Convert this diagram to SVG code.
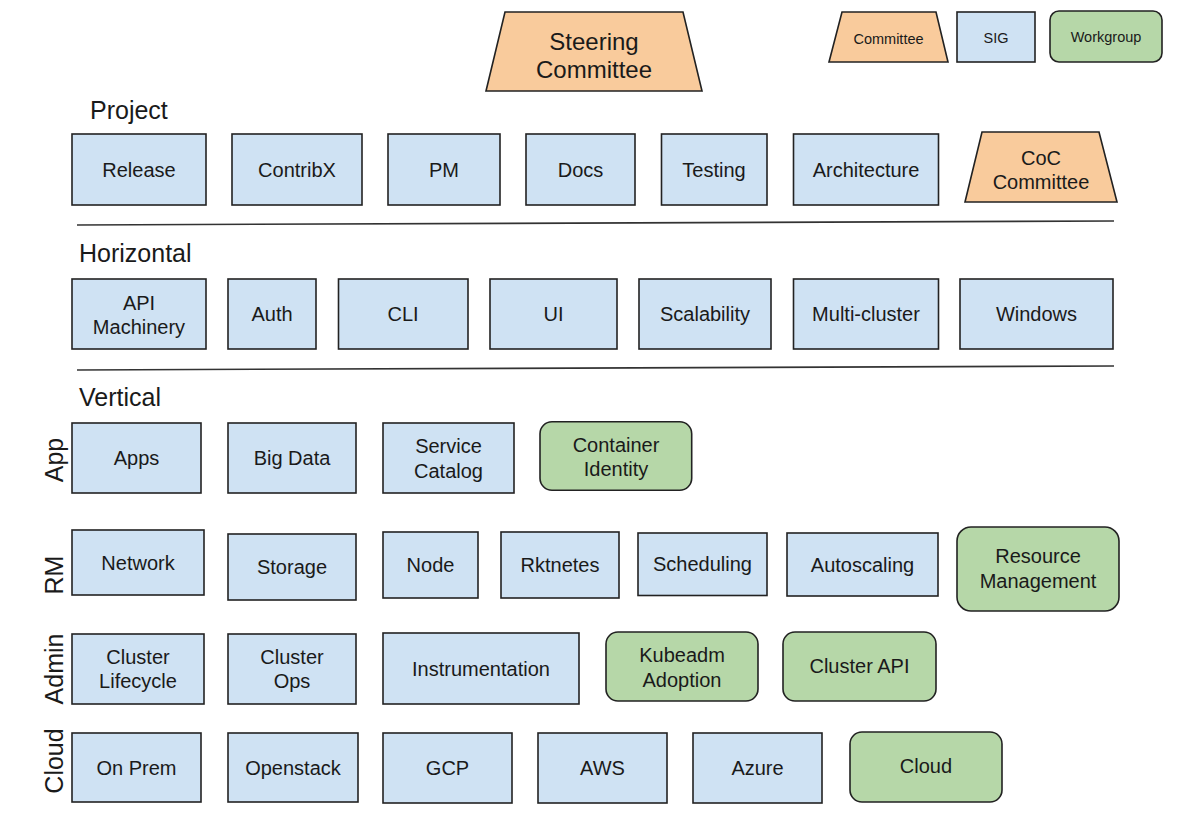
<svg xmlns="http://www.w3.org/2000/svg" width="1200" height="829" viewBox="0 0 1200 829">
<style>
text{font-family:"Liberation Sans",Arial,sans-serif;fill:#1a1a1a}
.t{font-size:20px;text-anchor:middle}
.h{font-size:25px}
.r{font-size:25px;text-anchor:middle}
.sig{fill:#cfe2f3;stroke:#222;stroke-width:1.6}
.com{fill:#f9cb9c;stroke:#222;stroke-width:1.6}
.wg{fill:#b6d7a8;stroke:#222;stroke-width:1.6}
.sep{stroke:#333;stroke-width:1.6;fill:none}
</style>
<rect width="1200" height="829" fill="#fff"/>

<g id="steering">
<polygon class="com" points="505,12 683,12 702,91 486,91"/>
<text x="594" y="50" style="font-size:24px;text-anchor:middle">Steering</text>
<text x="594" y="78" style="font-size:24px;text-anchor:middle">Committee</text>
</g>

<g id="legend">
<g id="legend-committee"><polygon class="com" points="842,12 936,12 948,62 829,62"/><text x="888.5" y="44" style="font-size:14.5px;text-anchor:middle">Committee</text></g>
<g id="legend-sig"><rect class="sig" x="957" y="12" width="78" height="50"/><text x="996" y="43" style="font-size:14.5px;text-anchor:middle">SIG</text></g>
<g id="legend-workgroup"><rect class="wg" x="1050" y="11" width="112" height="51" rx="9"/><text x="1106" y="42" style="font-size:14.5px;text-anchor:middle">Workgroup</text></g>
</g>

<g id="headings">
<text class="h" x="90" y="119">Project</text>
<text class="h" x="79" y="262">Horizontal</text>
<text class="h" x="79" y="406">Vertical</text>
<text class="r" transform="translate(63,460) rotate(-90)">App</text>
<text class="r" transform="translate(63,575) rotate(-90)">RM</text>
<text class="r" transform="translate(63,669) rotate(-90)">Admin</text>
<text class="r" transform="translate(63,761) rotate(-90)">Cloud</text>
</g>

<g id="connectors">
<line class="sep" x1="77" y1="225" x2="1114" y2="221"/>
<line class="sep" x1="77" y1="370" x2="1114" y2="366"/>
</g>

<!-- Project -->
<g id="release"><rect class="sig" x="72" y="134" width="134" height="71"/><text class="t" x="139" y="176.5">Release</text></g>
<g id="contribx"><rect class="sig" x="232" y="134" width="130" height="71"/><text class="t" x="297" y="176.5">ContribX</text></g>
<g id="pm"><rect class="sig" x="388" y="134" width="112" height="71"/><text class="t" x="444" y="176.5">PM</text></g>
<g id="docs"><rect class="sig" x="526" y="134" width="109" height="71"/><text class="t" x="580.5" y="176.5">Docs</text></g>
<g id="testing"><rect class="sig" x="661.5" y="134" width="105.5" height="71"/><text class="t" x="714" y="176.5">Testing</text></g>
<g id="architecture"><rect class="sig" x="793.5" y="134" width="145" height="71"/><text class="t" x="866" y="176.5">Architecture</text></g>
<g id="coc"><polygon class="com" points="982,132 1099,132 1117,202 965,202"/><text class="t" x="1041" y="165">CoC</text><text class="t" x="1041" y="189">Committee</text></g>

<!-- Horizontal -->
<g id="api-machinery"><rect class="sig" x="72" y="279" width="134" height="70"/><text class="t" x="139" y="309.5">API</text><text class="t" x="139" y="334">Machinery</text></g>
<g id="auth"><rect class="sig" x="228" y="279" width="88" height="70"/><text class="t" x="272" y="321">Auth</text></g>
<g id="cli"><rect class="sig" x="338.5" y="279" width="129.5" height="70"/><text class="t" x="403" y="321">CLI</text></g>
<g id="ui"><rect class="sig" x="490" y="279" width="127" height="70"/><text class="t" x="553.5" y="321">UI</text></g>
<g id="scalability"><rect class="sig" x="639" y="279" width="132" height="70"/><text class="t" x="705" y="321">Scalability</text></g>
<g id="multi-cluster"><rect class="sig" x="793.5" y="279" width="145" height="70"/><text class="t" x="866" y="321">Multi-cluster</text></g>
<g id="windows"><rect class="sig" x="960" y="279" width="153" height="70"/><text class="t" x="1036.5" y="321">Windows</text></g>

<!-- App -->
<g id="apps"><rect class="sig" x="72" y="423" width="129" height="70"/><text class="t" x="136.5" y="465">Apps</text></g>
<g id="big-data"><rect class="sig" x="228" y="423" width="128" height="70"/><text class="t" x="292" y="465">Big Data</text></g>
<g id="service-catalog"><rect class="sig" x="383" y="423" width="131" height="70"/><text class="t" x="448.5" y="453.3">Service</text><text class="t" x="448.5" y="478.3">Catalog</text></g>
<g id="container-identity"><rect class="wg" x="540" y="421.7" width="151.7" height="68.6" rx="12"/><text class="t" x="616" y="451.7">Container</text><text class="t" x="616" y="476">Identity</text></g>

<!-- RM -->
<g id="network"><rect class="sig" x="72" y="530" width="132" height="65"/><text class="t" x="138" y="569.5">Network</text></g>
<g id="storage"><rect class="sig" x="228" y="534" width="128" height="66"/><text class="t" x="292" y="574">Storage</text></g>
<g id="node"><rect class="sig" x="383" y="532" width="95" height="66"/><text class="t" x="430.5" y="572">Node</text></g>
<g id="rktnetes"><rect class="sig" x="501" y="532" width="118" height="66"/><text class="t" x="560" y="572">Rktnetes</text></g>
<g id="scheduling"><rect class="sig" x="638" y="533" width="129" height="62.5"/><text class="t" x="702.5" y="571.3">Scheduling</text></g>
<g id="autoscaling"><rect class="sig" x="787" y="533" width="151" height="63"/><text class="t" x="862.5" y="571.5">Autoscaling</text></g>
<g id="resource-management"><rect class="wg" x="957" y="527" width="162" height="84" rx="14"/><text class="t" x="1038" y="563.3">Resource</text><text class="t" x="1038" y="588.3">Management</text></g>

<!-- Admin -->
<g id="cluster-lifecycle"><rect class="sig" x="72" y="634" width="132" height="70"/><text class="t" x="138" y="664">Cluster</text><text class="t" x="138" y="688">Lifecycle</text></g>
<g id="cluster-ops"><rect class="sig" x="228" y="634" width="128" height="70"/><text class="t" x="292" y="664">Cluster</text><text class="t" x="292" y="688">Ops</text></g>
<g id="instrumentation"><rect class="sig" x="383" y="633" width="196" height="71"/><text class="t" x="481" y="676">Instrumentation</text></g>
<g id="kubeadm-adoption"><rect class="wg" x="606" y="632" width="152" height="69" rx="12"/><text class="t" x="682" y="662">Kubeadm</text><text class="t" x="682" y="686.5">Adoption</text></g>
<g id="cluster-api"><rect class="wg" x="783" y="632" width="153" height="69" rx="12"/><text class="t" x="859.5" y="673.3">Cluster API</text></g>

<!-- Cloud -->
<g id="on-prem"><rect class="sig" x="72" y="733" width="129" height="69"/><text class="t" x="136.5" y="775">On Prem</text></g>
<g id="openstack"><rect class="sig" x="228" y="733" width="130" height="69"/><text class="t" x="293" y="775">Openstack</text></g>
<g id="gcp"><rect class="sig" x="383" y="733" width="129" height="70"/><text class="t" x="447.5" y="775">GCP</text></g>
<g id="aws"><rect class="sig" x="538" y="733" width="129" height="70"/><text class="t" x="602.5" y="775">AWS</text></g>
<g id="azure"><rect class="sig" x="693" y="733" width="129" height="70"/><text class="t" x="757.5" y="775">Azure</text></g>
<g id="cloud"><rect class="wg" x="850" y="732" width="152" height="70" rx="12"/><text class="t" x="926" y="773.3">Cloud</text></g>
</svg>
